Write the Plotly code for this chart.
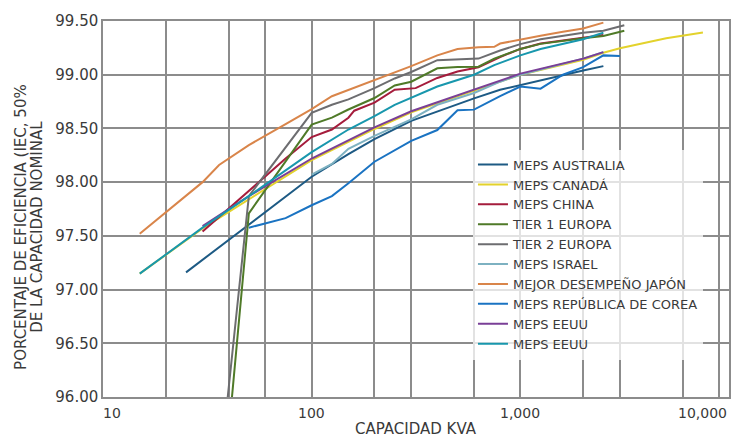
import math
import plotly.graph_objects as go

# ---------------- data ----------------
names = ["MEPS AUSTRALIA", "MEPS CANADÁ", "MEPS CHINA", "TIER 1 EUROPA", "TIER 2 EUROPA",
         "MEPS ISRAEL", "MEJOR DESEMPEÑO JAPÓN", "MEPS REPÚBLICA DE COREA", "MEPS EEUU", "MEPS EEUU"]
colors = ["#1d5a84", "#e3d22c", "#a51c3c", "#4f7a28", "#6d6d70",
          "#7db1c1", "#d9854a", "#1a73c2", "#7a3f97", "#1897ad"]

aus_kva = [25, 100, 150, 200, 300, 400, 600, 800, 1000, 1250, 2000, 2500]
aus_eff = [97.16, 98.05, 98.26, 98.40, 98.57, 98.66, 98.78, 98.86, 98.905, 98.95, 99.04, 99.08]

can_kva = [15, 30, 100, 200, 300, 600, 800, 1000, 2000, 2500, 3000, 3750, 5000, 7500]
can_eff = [97.148, 97.57, 98.205, 98.495, 98.65, 98.85, 98.94, 99.0, 99.14, 99.205, 99.246, 99.29, 99.34, 99.393]

chn_kva = [30, 75, 100, 125, 150, 160, 200, 250, 315, 400, 500, 630, 800, 1000, 1250, 2000, 2500]
chn_eff = [97.54, 98.22, 98.42, 98.49, 98.60, 98.665, 98.74, 98.86, 98.875, 98.97, 99.03, 99.07, 99.165, 99.24, 99.29, 99.34, 99.37]

t1_kva = [41.5, 50, 100, 125, 150, 200, 250, 300, 400, 500, 630, 750, 1000, 1250, 2000, 2500, 3150]
t1_eff = [96.0, 97.71, 98.535, 98.60, 98.676, 98.783, 98.90, 98.935, 99.06, 99.072, 99.075, 99.149, 99.24, 99.287, 99.34, 99.36, 99.41]

t2_kva = [39.6, 50, 100, 125, 150, 200, 250, 300, 400, 630, 800, 1000, 1250, 1600, 2000, 2500, 3150]
t2_eff = [96.0, 97.87, 98.645, 98.72, 98.77, 98.875, 98.965, 99.025, 99.135, 99.15, 99.225, 99.285, 99.33, 99.36, 99.39, 99.41, 99.46]

isr_kva = [100, 125, 150, 200, 300, 400, 600, 800, 1000, 2000, 2500]
isr_eff = [98.07, 98.17, 98.31, 98.43, 98.585, 98.72, 98.83, 98.935, 99.0, 99.15, 99.21]

jpn_kva = [15, 30, 36, 45, 50, 75, 100, 125, 200, 300, 400, 500, 630, 750, 800, 1000, 1250, 1600, 2000, 2500]
jpn_eff = [97.52, 98.00, 98.16, 98.29, 98.345, 98.54, 98.68, 98.80, 98.95, 99.08, 99.18, 99.24, 99.255, 99.26, 99.29, 99.33, 99.363, 99.40, 99.43, 99.485]

kor_kva = [50, 75, 100, 125, 150, 200, 300, 400, 500, 600, 800, 1000, 1250, 1600, 2000, 2500, 3000]
kor_eff = [97.576, 97.665, 97.785, 97.87, 97.99, 98.19, 98.385, 98.485, 98.67, 98.675, 98.80, 98.89, 98.87, 99.0, 99.07, 99.18, 99.175]

us1_kva = [30, 50, 100, 200, 300, 600, 800, 1000, 2000, 2500]
us1_eff = [97.59, 97.87, 98.22, 98.51, 98.66, 98.86, 98.95, 99.01, 99.15, 99.21]

us2_kva = [15, 30, 50, 100, 150, 200, 250, 400, 600, 750, 1000, 1250, 2000, 2500]
us2_eff = [97.148, 97.576, 97.87, 98.28, 98.49, 98.615, 98.72, 98.89, 99.0, 99.09, 99.18, 99.24, 99.33, 99.39]

series_kva = [aus_kva, can_kva, chn_kva, t1_kva, t2_kva, isr_kva, jpn_kva, kor_kva, us1_kva, us2_kva]
series_eff = [aus_eff, can_eff, chn_eff, t1_eff, t2_eff, isr_eff, jpn_eff, kor_eff, us1_eff, us2_eff]

y_ticks = [96.0, 96.5, 97.0, 97.5, 98.0, 98.5, 99.0, 99.5]
x_grid = [10, 20, 40, 60, 100, 200, 300, 600, 1000, 2000, 3000, 6000, 9000, 10000]
x_labels = {10: "10", 100: "100", 1000: "1,000", 10000: "10,000"}

FONT = "DejaVu Sans"
TXT = "#3a3a3a"
GRID = "#8c8c8c"

fig = go.Figure()
for i, (nm, c, kx, ey) in enumerate(zip(names, colors, series_kva, series_eff)):
    fig.add_trace(go.Scatter(x=kx, y=ey, mode="lines", name=nm,
                             line=dict(color=c, width=2), legendrank=i + 1))

fig.update_layout(
    width=744, height=441,
    margin=dict(l=103, r=15, t=15, b=44),
    paper_bgcolor="white", plot_bgcolor="white",
    font=dict(family=FONT, color=TXT),
    showlegend=True,
    legend=dict(x=0.591, y=0.658, xanchor="left", yanchor="top",
                bgcolor="rgba(255,255,255,0.75)", borderwidth=0,
                font=dict(size=13, family=FONT, color=TXT), itemwidth=30),
)
fig.update_xaxes(type="log", range=[1, 4], tickvals=x_grid, showticklabels=False,
                 showgrid=True, gridcolor=GRID, gridwidth=1.5,
                 showline=True, linecolor=GRID, linewidth=1.5, mirror=True, zeroline=False)
fig.update_yaxes(range=[96, 99.5], tickvals=y_ticks, tickformat=".2f",
                 tickfont=dict(size=15, family=FONT, color=TXT),
                 showgrid=True, gridcolor=GRID, gridwidth=1.5,
                 showline=True, linecolor=GRID, linewidth=1.5, mirror=True, zeroline=False)

for v, t in x_labels.items():
    anchor, shift = "center", 0
    if v == 10:
        anchor, shift = "left", -2
    elif v == 10000:
        anchor, shift = "right", 0
    fig.add_annotation(x=math.log10(v), y=-0.042, xref="x", yref="paper", text=t,
                       showarrow=False, xanchor=anchor, yanchor="middle", xshift=shift,
                       font=dict(size=14, family=FONT, color=TXT))

fig.add_annotation(x=0.5, y=-0.1152, xref="paper", yref="paper", text="CAPACIDAD KVA",
                   showarrow=False, xanchor="center", yanchor="bottom",
                   font=dict(size=15, family=FONT, color=TXT))
fig.add_annotation(x=-0.1299, y=0.4516, xref="paper", yref="paper",
                   text="PORCENTAJE DE EFICIENCIA (IEC, 50%", textangle=-90,
                   showarrow=False, xanchor="center", yanchor="middle",
                   font=dict(size=15, family=FONT, color=TXT))
fig.add_annotation(x=-0.1046, y=0.4516, xref="paper", yref="paper",
                   text="DE LA CAPACIDAD NOMINAL", textangle=-90,
                   showarrow=False, xanchor="center", yanchor="middle",
                   font=dict(size=15, family=FONT, color=TXT))

fig.write_html("out.html", config={"displayModeBar": False},
               post_script="document.body.style.margin='0';document.body.style.overflow='hidden';")
